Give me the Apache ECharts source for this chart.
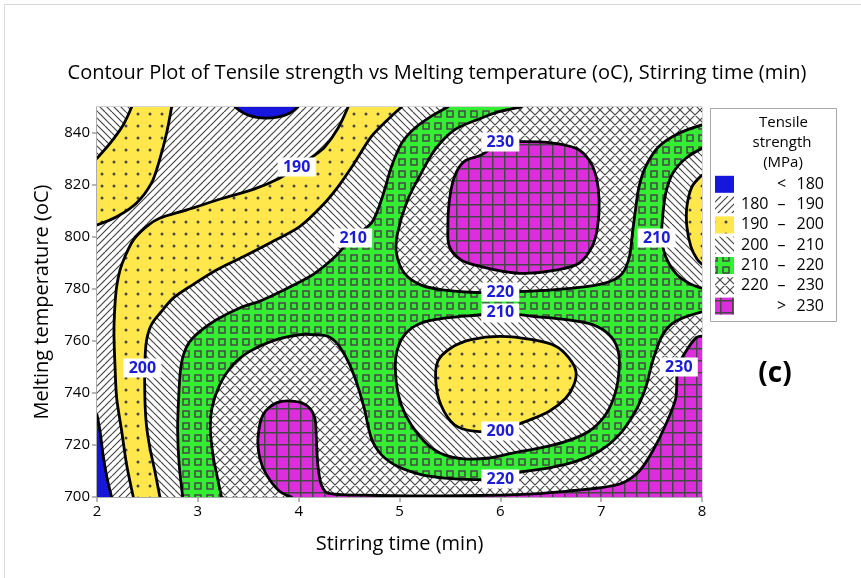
<!DOCTYPE html>
<html lang="en">
<head>
<meta charset="UTF-8">
<title>Contour Plot of Tensile strength</title>
<script src="https://cdn.jsdelivr.net/npm/echarts@6/dist/echarts.min.js"></script>
<style>
  html, body { margin: 0; padding: 0; background: #fff; }
  #chart { width: 861px; height: 578px; }
</style>
</head>
<body>
<div id="chart"></div>
<script>
var xTicks = [2, 3, 4, 5, 6, 7, 8];
var yTicks = [700, 720, 740, 760, 780, 800, 820, 840];
var bandLo = ['', '180', '190', '200', '210', '220', ''];
var bandSym = ['<', '–', '–', '–', '–', '–', '>'];
var bandHi = ['180', '190', '200', '210', '220', '230', '230'];
var bandColors = ['#1616dc', '#ffffff', '#ffe74c', '#ffffff', '#33ee33', '#ffffff', '#dc2edc'];

// contour lines, [stirring time, melting temperature]
var c180Top = [[3.37, 850], [3.43, 848.2], [3.5, 846.9], [3.63, 845.8], [3.79, 846.1], [3.91, 847.6], [3.99, 850]];
var c180Left = [[2, 731.6], [2.03, 725.3], [2.06, 716.3], [2.10, 707.3], [2.145, 700]];
var c190Left = [[2.74, 850], [2.69, 839.9], [2.62, 829.6], [2.54, 820.7], [2.39, 813.0], [2.195, 807.8], [2, 804.6]];
var c190Main = [[2.36, 700], [2.294, 712.4], [2.245, 725.3], [2.195, 738.1], [2.178, 750.9], [2.168, 763.7], [2.178, 773.8],
  [2.195, 780.9], [2.228, 787.3], [2.277, 792.4], [2.36, 798.8], [2.49, 804.0], [2.62, 807.2], [2.89, 810.4], [3.25, 814.9],
  [3.55, 818.3], [3.81, 822.6], [3.98, 826.9], [4.16, 831.5], [4.26, 834.7], [4.39, 841.8], [4.49, 850]];
var c200Corner = [[2.344, 850], [2.26, 843.1], [2.129, 836.0], [2, 830.3]];
var c200Main = [[2.624, 700], [2.574, 709.9], [2.525, 718.8], [2.49, 727.8], [2.475, 738.1], [2.475, 750.9], [2.49, 759.9],
  [2.54, 766.3], [2.64, 771.4], [2.755, 776.5], [2.92, 780.9], [3.185, 787.3], [3.45, 792.4], [3.71, 797.6], [4.01, 804.0],
  [4.225, 811.7], [4.39, 819.3], [4.55, 828.3], [4.72, 838.6], [4.88, 845.0], [5.02, 850]];
var c210Main = [[2.85, 700], [2.815, 712.4], [2.80, 725.3], [2.81, 738.1], [2.835, 750.9], [2.9, 758.6], [3.02, 763.7],
  [3.185, 768.2], [3.416, 772.7], [3.65, 775.9], [4.01, 782.7], [4.16, 786.0], [4.36, 792.4], [4.535, 799.9], [4.72, 805.3],
  [4.82, 814.2], [4.92, 827.0], [5.02, 836.0], [5.15, 841.8], [5.31, 846.3], [5.48, 850]];
var c220Top = [[6.205, 850], [5.99, 848.2], [5.81, 845.7], [5.545, 841.2], [5.35, 833.5], [5.215, 824.5], [5.08, 814.2],
  [4.98, 801.4], [4.97, 793.7], [5.05, 786.0], [5.215, 781.5], [5.445, 779.6], [5.81, 778.6], [6.0, 778.8], [6.155, 779.0],
  [6.485, 779.6], [6.85, 780.9], [7.08, 782.8], [7.21, 786.0], [7.28, 792.4], [7.31, 801.4], [7.34, 810.4], [7.375, 819.3],
  [7.44, 827.0], [7.57, 834.7], [7.77, 839.9], [8, 843.1]];
var c230Top = [[5.81, 831.5], [6.0, 836.2], [6.19, 836.7], [6.485, 836.3], [6.75, 834.1], [6.88, 829.6], [6.95, 823.2],
  [6.98, 814.2], [6.965, 804.0], [6.91, 796.3], [6.78, 789.9], [6.55, 787.3], [6.25, 786.0], [6.04, 786.7], [5.81, 788.6],
  [5.61, 791.2], [5.495, 796.3], [5.48, 804.0], [5.495, 814.2], [5.545, 823.2], [5.64, 829.0]];
var c210Right = [[8, 834.1], [7.84, 830.3], [7.71, 824.5], [7.64, 816.8], [7.61, 807.8], [7.6, 800], [7.64, 792.4],
  [7.74, 786.0], [7.87, 782.2], [8, 780.3]];
var c200Right = [[8, 823.8], [7.9, 819.3], [7.85, 811.7], [7.85, 804.0], [7.89, 796.3], [7.95, 791.5], [8, 789.5]];
var c210Center = [[6.0, 770.8], [6.32, 769.5], [6.65, 768.2], [6.915, 766.3], [7.08, 762.4], [7.16, 757.3], [7.18, 750.9],
  [7.145, 740.7], [7.045, 731.7], [6.88, 725.3], [6.65, 721.4], [6.386, 718.8], [6.12, 716.9], [5.89, 715.0], [5.64, 714.7],
  [5.445, 716.2], [5.28, 720.1], [5.116, 727.8], [5.017, 735.5], [4.967, 744.5], [4.967, 754.7], [5.05, 762.4],
  [5.215, 766.9], [5.445, 768.8], [5.81, 770.1]];
var c200Center = [[6.0, 761.8], [6.32, 760.5], [6.55, 758.0], [6.68, 753.5], [6.75, 748.3], [6.73, 743.2], [6.65, 738.1],
  [6.485, 733.0], [6.255, 729.1], [6.12, 727.2], [6.0, 725.4], [5.74, 725.3], [5.545, 727.8], [5.41, 735.5], [5.36, 744.5],
  [5.38, 752.2], [5.51, 757.3], [5.71, 760.5]];
var c220Bottom = [[3.235, 700], [3.195, 707.3], [3.155, 715.0], [3.125, 725.3], [3.14, 734.2], [3.218, 743.2], [3.35, 750.9],
  [3.515, 756.0], [3.78, 760.5], [4.01, 762.4], [4.16, 762.4], [4.29, 761.8], [4.39, 758.6], [4.49, 752.2], [4.57, 744.5],
  [4.65, 734.2], [4.72, 722.7], [4.82, 716.3], [4.98, 711.8], [5.215, 708.6], [5.445, 707.3], [5.74, 706.7], [6.0, 706.9],
  [6.155, 709.2], [6.485, 711.2], [6.75, 713.7], [6.98, 717.6], [7.18, 724.0], [7.34, 733.0], [7.44, 741.9], [7.51, 752.2],
  [7.61, 762.4], [7.74, 767.6], [8, 771.2]];
var c230Bottom = [[3.93, 700], [3.81, 702.2], [3.68, 708.6], [3.614, 715.0], [3.597, 722.7], [3.647, 731.7], [3.78, 736.2],
  [3.96, 736.8], [4.09, 734.9], [4.16, 730.4], [4.175, 722.7], [4.19, 712.4], [4.225, 704.7], [4.29, 701.5], [4.62, 700.7],
  [5.28, 700.4], [6.0, 700.7], [6.32, 701.2], [6.65, 702.2], [6.98, 703.5], [7.21, 705.4], [7.376, 709.9], [7.51, 717.6],
  [7.64, 727.8], [7.74, 738.1], [7.76, 750], [7.84, 756.0], [7.94, 761.2], [8, 761.9]];

// contour labels [x, y, level]
var contourLabels = [[3.98, 826.9, 190], [4.54, 799.6, 210], [6, 836.5, 230], [7.55, 799.6, 210], [6, 778.8, 220],
  [6, 770.8, 210], [2.45, 749.6, 200], [6, 725.4, 200], [7.77, 750, 230], [6, 706.9, 220]];

// painted in order, inner levels on top
var regions = [
  { band: 1, pts: [[2, 700], [2, 850], [8, 850], [8, 700]] },
  { band: 0, pts: c180Top },
  { band: 0, pts: c180Left.concat([[2, 700]]) },
  { band: 2, pts: c190Main.concat([[8, 850], [8, 700]]) },
  { band: 2, pts: [[2, 850]].concat(c190Left) },
  { band: 3, pts: c200Main.concat([[8, 850], [8, 700]]) },
  { band: 3, pts: [[2, 850]].concat(c200Corner) },
  { band: 4, pts: c210Main.concat([[8, 850], [8, 700]]) },
  { band: 5, pts: c220Top.concat([[8, 850]]) },
  { band: 5, pts: c220Bottom.concat([[8, 700]]) },
  { band: 6, pts: c230Top, loop: true },
  { band: 6, pts: c230Bottom.concat([[8, 700]]) },
  { band: 3, pts: c210Center, loop: true },
  { band: 2, pts: c200Center, loop: true },
  { band: 3, pts: c210Right },
  { band: 2, pts: c200Right }
];

var FONT = "'Open Sans', 'Noto Sans', sans-serif";

function makePattern(band) {
  if (band === 0) return bandColors[0];
  var P = band === 1 || band === 3 ? 14 : (band === 5 ? 10 : 12);
  var c = document.createElement('canvas');
  c.width = P; c.height = P;
  var g = c.getContext('2d');
  g.fillStyle = bandColors[band];
  g.fillRect(0, 0, P, P);
  g.strokeStyle = '#474747';
  g.fillStyle = '#474747';
  g.lineWidth = 1.2;
  if (band === 1 || band === 3 || band === 5) {
    var step = band === 5 ? 10 : 7;
    g.beginPath();
    for (var k = -2 * P; k <= 2 * P; k += step) {
      if (band === 1 || band === 5) { g.moveTo(k, P); g.lineTo(k + P, 0); }
      if (band === 3 || band === 5) { g.moveTo(k, 0); g.lineTo(k + P, P); }
    }
    g.stroke();
  } else if (band === 2) {
    g.beginPath(); g.arc(6, 6, 1.5, 0, Math.PI * 2); g.fill();
  } else if (band === 4) {
    g.lineWidth = 1.5;
    g.strokeRect(3, 3, 6, 6);
  } else if (band === 6) {
    g.fillRect(0, 0, P, 1.5);
    g.fillRect(0, 0, 1.5, P);
  }
  return { image: c, repeat: 'repeat' };
}
var patterns = bandColors.map(function (c, i) { return makePattern(i); });

function edgeOf(p) {
  var e = '';
  if (p[0] <= 2) e += 'L';
  if (p[0] >= 8) e += 'R';
  if (p[1] <= 700) e += 'B';
  if (p[1] >= 850) e += 'T';
  return e;
}
function sharesEdge(a, b) {
  var ea = edgeOf(a), eb = edgeOf(b);
  for (var i = 0; i < ea.length; i++) if (eb.indexOf(ea[i]) >= 0) return true;
  return false;
}
// split a ring into the runs that are real contour lines (not plot edges)
function runsOf(pts) {
  var n = pts.length, start = -1;
  for (var i = 0; i < n; i++) {
    if (sharesEdge(pts[i], pts[(i + 1) % n])) { start = (i + 1) % n; break; }
  }
  if (start < 0) return [pts.concat([pts[0]])];
  var runs = [], cur = [pts[start]];
  for (var k = 0; k < n; k++) {
    var a = pts[(start + k) % n], b = pts[(start + k + 1) % n];
    if (sharesEdge(a, b)) { if (cur.length > 1) runs.push(cur); cur = [b]; }
    else cur.push(b);
  }
  if (cur.length > 1) runs.push(cur);
  return runs;
}

function renderFill(params, api) {
  var r = regions[params.dataIndex];
  var pts = r.pts.map(function (p) { return api.coord(p); });
  return {
    type: 'polygon',
    shape: { points: pts, smooth: r.loop ? 0.35 : 0 },
    style: { fill: patterns[r.band], stroke: null }
  };
}

function renderLines(params, api) {
  var r = regions[params.dataIndex];
  var lineStyle = { fill: null, stroke: '#000', lineWidth: 2.8, lineJoin: 'round', lineCap: 'round' };
  if (r.loop) {
    return {
      type: 'polygon',
      shape: { points: r.pts.map(function (p) { return api.coord(p); }), smooth: 0.35 },
      style: lineStyle
    };
  }
  var runs = runsOf(r.pts);
  return {
    type: 'group',
    children: runs.map(function (run) {
      return {
        type: 'polyline',
        shape: { points: run.map(function (p) { return api.coord(p); }), smooth: 0.3 },
        style: lineStyle
      };
    })
  };
}

var regionData = regions.map(function (r) { return r.pts[0]; });

// legend
var legendItems = [
  { type: 'rect', shape: { x: 710.5, y: 108.5, width: 126, height: 213 }, style: { fill: '#fff', stroke: '#a9a9a9', lineWidth: 1 } },
  { type: 'text', x: 783.5, y: 123, style: { text: 'Tensile', fill: '#000', font: '15px ' + FONT, align: 'center', verticalAlign: 'middle' } },
  { type: 'text', x: 782, y: 143, style: { text: 'strength', fill: '#000', font: '15px ' + FONT, align: 'center', verticalAlign: 'middle' } },
  { type: 'text', x: 783, y: 163, style: { text: '(MPa)', fill: '#000', font: '15px ' + FONT, align: 'center', verticalAlign: 'middle' } }
];
bandHi.forEach(function (hi, i) {
  var y = 184.3 + i * 20.3;
  legendItems.push({ type: 'rect', shape: { x: 715, y: y - 8.5, width: 19, height: 17 }, style: { fill: patterns[i] } });
  legendItems.push({ type: 'text', x: 768.5, y: y, style: { text: bandLo[i], fill: '#000', font: '16px ' + FONT, align: 'right', verticalAlign: 'middle' } });
  legendItems.push({ type: 'text', x: 781.5, y: y, style: { text: bandSym[i], fill: '#000', font: '16px ' + FONT, align: 'center', verticalAlign: 'middle' } });
  legendItems.push({ type: 'text', x: 796.5, y: y, style: { text: hi, fill: '#000', font: '16px ' + FONT, align: 'left', verticalAlign: 'middle' } });
});

var option = {
  animation: false,
  backgroundColor: '#fff',
  grid: { left: 97, right: 159, top: 107, bottom: 81, show: true, borderColor: '#a9a9a9', borderWidth: 1, backgroundColor: 'transparent' },
  xAxis: {
    type: 'value', min: 2, max: 8, interval: 1,
    name: 'Stirring time (min)', nameLocation: 'middle', nameGap: 37,
    nameTextStyle: { fontSize: 20, color: '#000', fontFamily: FONT },
    axisLine: { show: true, lineStyle: { color: '#9e9e9e', width: 1.5 } },
    axisTick: { show: true, length: 5, lineStyle: { color: '#9e9e9e', width: 1.5 } },
    axisLabel: { fontSize: 15, color: '#000', margin: 7, fontFamily: FONT },
    splitLine: { show: false }
  },
  yAxis: {
    type: 'value', min: 700, max: 850, interval: 20,
    name: 'Melting temperature (oC)', nameLocation: 'middle', nameGap: 45,
    nameTextStyle: { fontSize: 20, color: '#000', fontFamily: FONT },
    axisLine: { show: true, lineStyle: { color: '#9e9e9e', width: 1.5 } },
    axisTick: { show: true, length: 5, customValues: yTicks, lineStyle: { color: '#9e9e9e', width: 1.5 } },
    axisLabel: { fontSize: 15, color: '#000', margin: 7, fontFamily: FONT, customValues: yTicks },
    splitLine: { show: false }
  },
  graphic: [
    { type: 'rect', shape: { x: 4.5, y: 4.5, width: 900, height: 600 }, style: { fill: null, stroke: '#dadada', lineWidth: 1 }, z: -1 },
    { type: 'text', x: 437, y: 73, style: { text: 'Contour Plot of Tensile strength vs Melting temperature (oC), Stirring time (min)', fill: '#000', font: '20px ' + FONT, align: 'center', verticalAlign: 'middle' } },
    { type: 'text', x: 775, y: 374, style: { text: '(c)', fill: '#000', font: 'bold 28px ' + FONT, align: 'center', verticalAlign: 'middle' } },
    { type: 'group', children: legendItems }
  ],
  series: [
    { type: 'custom', name: 'fill', coordinateSystem: 'cartesian2d', clip: true, z: 1, silent: true,
      renderItem: renderFill, data: regionData },
    { type: 'custom', name: 'contours', coordinateSystem: 'cartesian2d', clip: true, z: 2, silent: true,
      renderItem: renderLines, data: regionData },
    { type: 'scatter', name: 'labels', z: 3, silent: true, symbol: 'rect', symbolSize: [38, 19],
      itemStyle: { color: '#fff', opacity: 1 },
      label: { show: true, position: 'inside', formatter: function (p) { return p.value[2]; },
        color: '#1c1cd8', fontWeight: 'bold', fontSize: 16, fontFamily: FONT },
      data: contourLabels }
  ]
};

var chart = echarts.init(document.getElementById('chart'), null, { renderer: 'canvas' });
chart.setOption(option);
</script>
</body>
</html>
